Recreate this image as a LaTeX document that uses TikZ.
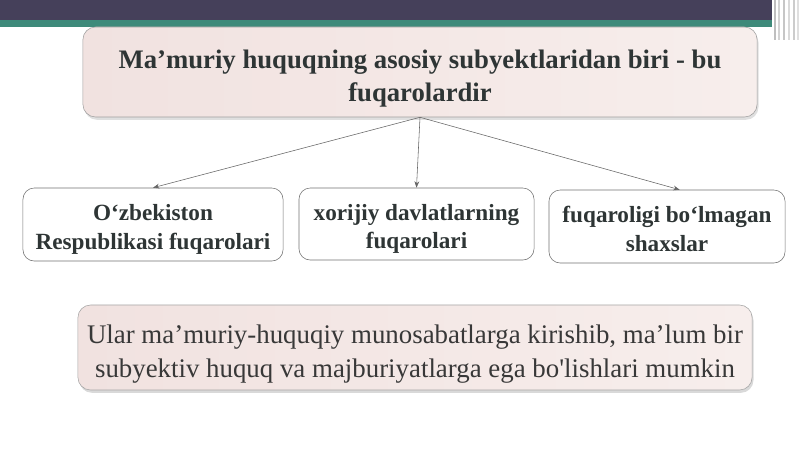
\documentclass[tikz,border=0pt]{standalone}
\usepackage{fontspec}
\setmainfont{Liberation Serif}
\usetikzlibrary{arrows.meta,shadows}
\definecolor{bardark}{HTML}{45405A}
\definecolor{barteal}{HTML}{3E8A7A}
\definecolor{pinkL}{HTML}{F1E2E0}
\definecolor{pinkR}{HTML}{F7EEEC}
\definecolor{inkdark}{HTML}{2E3535}
% two centred lines, with extra room above them
\newcommand{\twolines}[3]{\raisebox{0pt}[\dimexpr\height+#1\relax][\depth]{%
    \begin{tabular}{@{}c@{}}#2\\#3\end{tabular}}}

\begin{document}
\begin{tikzpicture}[
    x=0.025cm, y=-0.025cm,
    title/.style={rectangle, rounded corners=9pt, draw=gray!75, left color=pinkL, right color=pinkR,
        drop shadow={opacity=0.25, shadow xshift=1pt, shadow yshift=-2pt},
        inner ysep=0pt, text=inkdark, font=\bfseries\fontsize{19}{23.5}\selectfont},
    kind/.style={rectangle, rounded corners=8pt, draw=gray!90!black, fill=white,
        inner ysep=0pt, text=inkdark, font=\bfseries\fontsize{16.5}{20}\selectfont},
    note/.style={rectangle, rounded corners=9pt, draw=gray!70, left color=pinkL, right color=pinkR,
        drop shadow={opacity=0.3, shadow xshift=1pt, shadow yshift=-2pt},
        inner ysep=0pt, text=black!78, font=\fontsize{19.1}{24}\selectfont},
    link/.style={-{Stealth[length=1.6mm, width=1.2mm]}, gray!80!black, thin},
]
    \useasboundingbox (0,0) rectangle (800,449);

    % slide header bar
    \fill[bardark] (0,0) rectangle (772,20);
    \fill[barteal] (0,20) rectangle (772,27);
    \foreach \xx/\op in {774/0.5, 778/0.35, 783/0.45, 788/0.3, 793/0.4, 797/0.25}
        \fill[gray, opacity=\op] (\xx,0) rectangle (\xx+2,40);

    \node[title, minimum width=16.85cm, minimum height=2.25cm] (main) at (420,72)
        {\twolines{9pt}{Ma’muriy huquqning asosiy subyektlaridan biri - bu}{fuqarolardir}};

    \node[kind, minimum width=6.5cm, minimum height=1.825cm] (uzb) at (153,224.5)
        {\twolines{7pt}{O‘zbekiston}{Respublikasi fuqarolari}};
    \node[kind, minimum width=5.875cm, minimum height=1.8cm] (foreign) at (416.5,224)
        {\twolines{7pt}{xorijiy davlatlarning}{fuqarolari}};
    \node[kind, minimum width=5.9cm, minimum height=1.825cm] (stateless) at (667,226.5)
        {\twolines{7pt}{fuqaroligi bo‘lmagan}{shaxslar}};

    \node[note, minimum width=16.85cm, minimum height=2.125cm] (rights) at (415,347.5)
        {\twolines{9pt}{Ular ma’muriy-huquqiy munosabatlarga kirishib, ma’lum bir}{subyektiv huquq va majburiyatlarga ega bo\textquotesingle lishlari mumkin}};

    % arrows from the title box
    \draw[link] (main.south) -- (uzb.north);
    \draw[link] (main.south) -- (foreign.north);
    \draw[link] (main.south) -- ([xshift=9]stateless.north);
\end{tikzpicture}
\end{document}
